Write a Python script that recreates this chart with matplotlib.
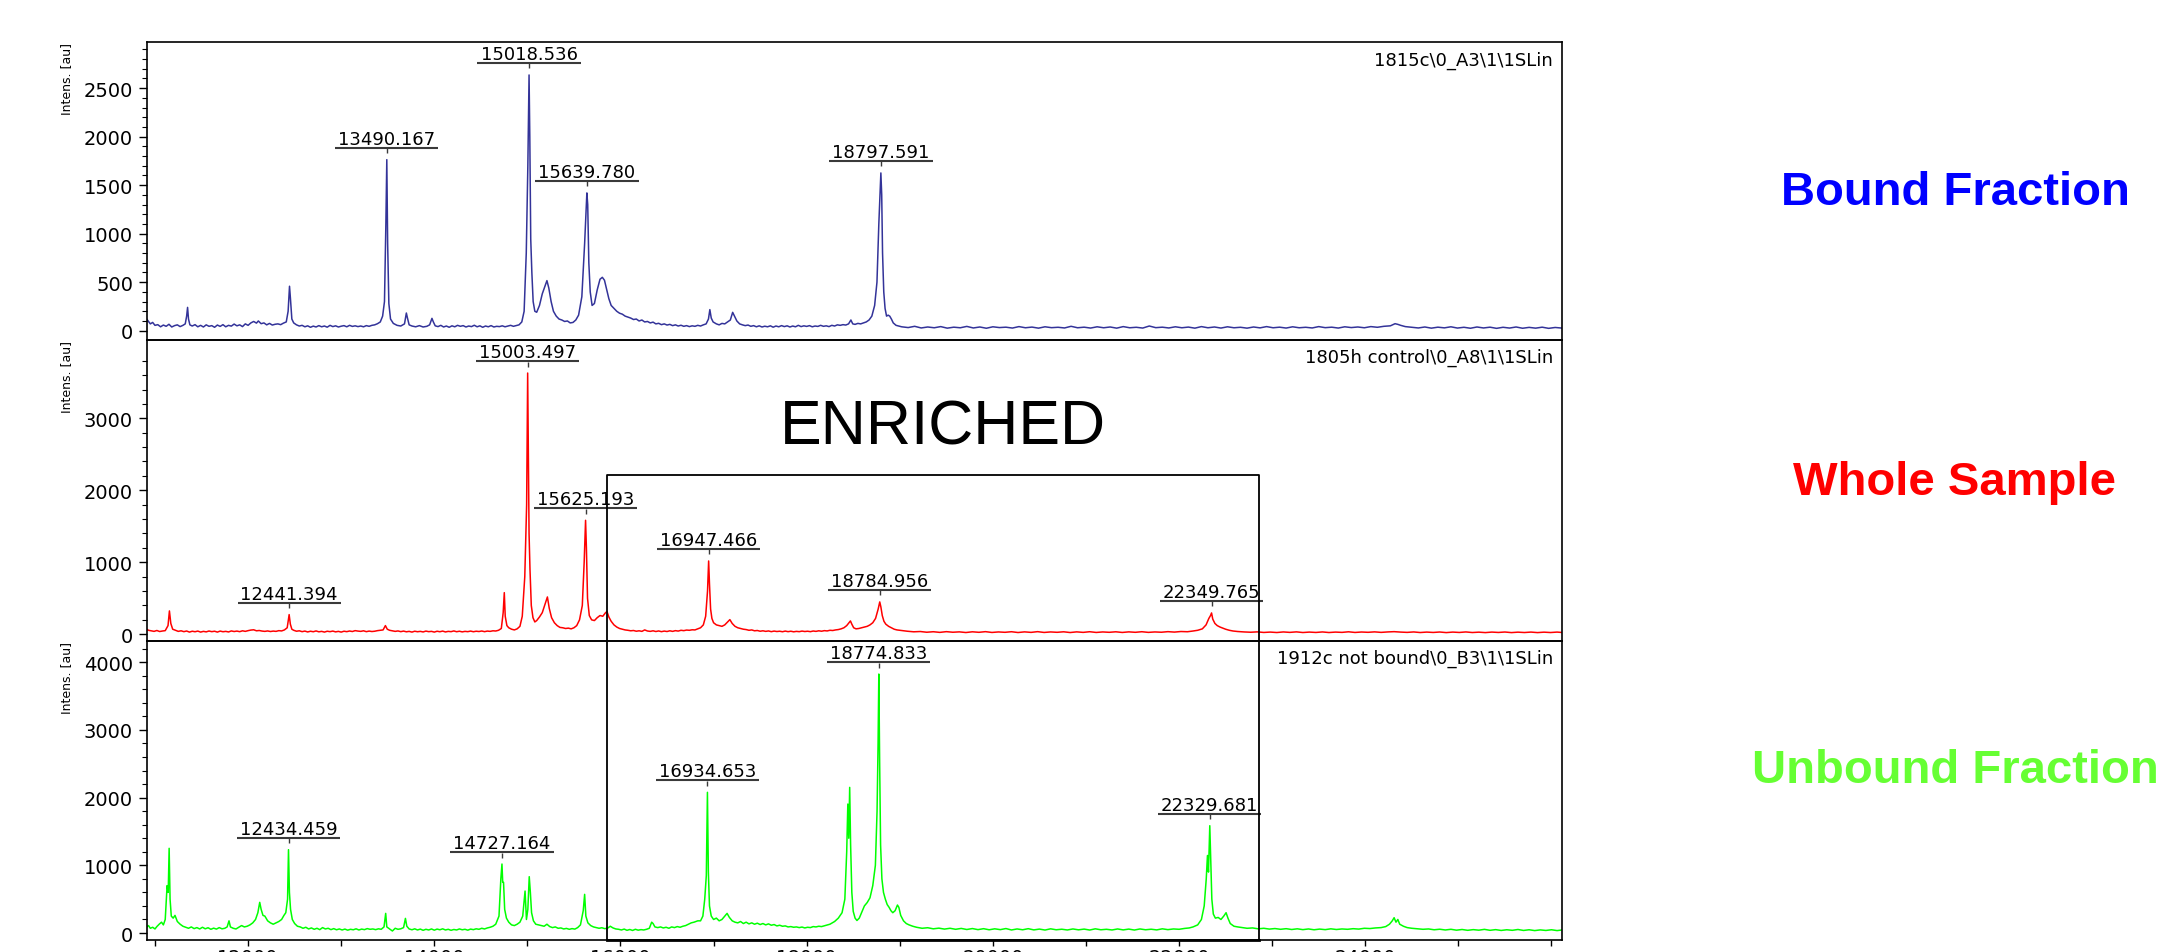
import matplotlib
matplotlib.use('Agg')
import matplotlib.pyplot as plt
from matplotlib.ticker import MultipleLocator, FixedLocator
from matplotlib.transforms import offset_copy

plt.rcParams['font.family'] = ['DejaVu Sans']

# spectra: (m/z, intensity [au])
bound_pts = [
    (10911, 120), (10930, 95), (10950, 70), (10975, 85), (11000, 55), (11030, 62), (11060, 40), (11090, 58),
    (11120, 45), (11150, 66), (11180, 38), (11210, 52), (11240, 60), (11270, 42), (11300, 55), (11325, 70),
    (11340, 150), (11350, 240), (11360, 120), (11375, 60), (11400, 48), (11430, 62), (11460, 40), (11490, 55),
    (11520, 38), (11550, 60), (11580, 45), (11610, 52), (11640, 35), (11670, 58), (11700, 44), (11730, 62),
    (11760, 40), (11790, 55), (11820, 47), (11850, 68), (11880, 50), (11910, 60), (11940, 42), (11970, 70),
    (12000, 55), (12030, 80), (12060, 95), (12090, 78), (12110, 100), (12140, 72), (12170, 80), (12200, 60),
    (12230, 75), (12260, 58), (12290, 66), (12320, 70), (12350, 62), (12380, 78), (12410, 90), (12430, 200),
    (12445, 458), (12455, 330), (12470, 120), (12490, 80), (12520, 60), (12550, 48), (12580, 55), (12610, 40),
    (12640, 50), (12670, 35), (12700, 47), (12730, 38), (12760, 52), (12790, 40), (12820, 48), (12850, 36),
    (12880, 55), (12910, 42), (12940, 50), (12970, 38), (13000, 46), (13030, 52), (13060, 40), (13090, 55),
    (13120, 44), (13150, 50), (13180, 42), (13210, 48), (13240, 40), (13270, 52), (13300, 45), (13330, 55),
    (13360, 60), (13390, 72), (13420, 90), (13445, 150), (13465, 300), (13480, 1100), (13490, 1763),
    (13499, 900), (13512, 280), (13530, 120), (13560, 75), (13600, 55), (13640, 48), (13680, 70), (13700, 182),
    (13712, 130), (13730, 60), (13760, 48), (13800, 40), (13840, 52), (13880, 38), (13920, 45), (13950, 60),
    (13975, 127), (13990, 90), (14010, 50), (14040, 42), (14070, 55), (14100, 38), (14130, 48), (14160, 35),
    (14190, 50), (14220, 40), (14250, 55), (14280, 45), (14310, 52), (14340, 38), (14370, 48), (14400, 42),
    (14430, 56), (14460, 40), (14490, 50), (14520, 35), (14550, 48), (14580, 40), (14610, 52), (14640, 38),
    (14670, 45), (14700, 42), (14730, 50), (14760, 40), (14790, 48), (14820, 55), (14850, 45), (14880, 52),
    (14910, 60), (14940, 90), (14965, 200), (14988, 800), (15005, 1700), (15018, 2636), (15026, 2000),
    (15036, 945), (15048, 600), (15062, 300), (15080, 200), (15100, 190), (15130, 260), (15160, 380),
    (15190, 460), (15210, 516), (15230, 440), (15255, 300), (15280, 200), (15310, 150), (15340, 120),
    (15370, 110), (15400, 95), (15430, 100), (15460, 80), (15490, 85), (15520, 110), (15550, 160),
    (15585, 350), (15615, 900), (15639, 1420), (15648, 1300), (15660, 700), (15675, 400), (15695, 260),
    (15720, 280), (15750, 420), (15780, 530), (15805, 550), (15828, 520), (15850, 430), (15875, 330),
    (15900, 260), (15930, 230), (15960, 200), (15990, 180), (16020, 170), (16050, 150), (16080, 140),
    (16110, 130), (16140, 115), (16170, 120), (16200, 100), (16230, 110), (16260, 90), (16290, 95),
    (16320, 80), (16350, 88), (16380, 70), (16410, 76), (16440, 62), (16470, 70), (16500, 58), (16530, 65),
    (16560, 52), (16590, 60), (16620, 48), (16650, 56), (16680, 45), (16710, 52), (16740, 42), (16770, 50),
    (16800, 45), (16830, 55), (16860, 48), (16890, 60), (16920, 70), (16945, 120), (16960, 217), (16975, 130),
    (16995, 90), (17030, 70), (17060, 60), (17090, 75), (17120, 70), (17150, 90), (17180, 110), (17205, 189),
    (17225, 150), (17250, 100), (17280, 70), (17310, 60), (17340, 52), (17370, 58), (17400, 45), (17430, 52),
    (17460, 40), (17490, 50), (17520, 38), (17550, 46), (17580, 40), (17610, 50), (17640, 36), (17670, 48),
    (17700, 40), (17730, 52), (17760, 42), (17790, 50), (17820, 38), (17850, 48), (17880, 40), (17910, 55),
    (17940, 42), (17970, 50), (18000, 44), (18030, 52), (18060, 40), (18090, 48), (18120, 44), (18150, 55),
    (18180, 45), (18210, 50), (18240, 42), (18270, 55), (18300, 48), (18330, 60), (18360, 55), (18390, 62),
    (18420, 58), (18450, 70), (18475, 110), (18495, 70), (18520, 65), (18550, 75), (18580, 70), (18610, 80),
    (18640, 90), (18670, 110), (18700, 150), (18730, 260), (18755, 500), (18775, 1100), (18797, 1626),
    (18806, 1400), (18815, 800), (18828, 400), (18842, 230), (18858, 150), (18875, 160), (18892, 150),
    (18910, 120), (18930, 80), (18960, 55), (18990, 48),
    (19020, 40), (19090, 32), (19160, 45), (19230, 28), (19300, 38), (19370, 30), (19440, 42), (19510, 26),
    (19580, 36), (19650, 30), (19720, 44), (19790, 28), (19860, 38), (19930, 25), (20000, 40), (20070, 32),
    (20140, 36), (20210, 27), (20280, 42), (20350, 30), (20420, 37), (20490, 26), (20560, 40), (20630, 31),
    (20700, 35), (20770, 28), (20840, 45), (20910, 30), (20980, 36), (21050, 27), (21120, 40), (21190, 30),
    (21260, 38), (21330, 26), (21400, 42), (21470, 30), (21540, 35), (21610, 27), (21680, 48), (21750, 31),
    (21820, 36), (21890, 28), (21960, 40), (22030, 30), (22100, 37), (22170, 26), (22240, 42), (22310, 30),
    (22380, 38), (22450, 27), (22520, 40), (22590, 30), (22660, 35), (22730, 26), (22800, 38), (22870, 29),
    (22940, 42), (23010, 30), (23080, 36), (23150, 27), (23220, 40), (23290, 30), (23360, 35), (23430, 28),
    (23500, 42), (23570, 31), (23640, 36), (23710, 27), (23780, 40), (23850, 32), (23920, 38), (23990, 30),
    (24060, 42), (24130, 35), (24200, 45), (24270, 50), (24320, 72), (24350, 65), (24380, 55), (24430, 42),
    (24500, 35), (24570, 28), (24640, 38), (24710, 26), (24780, 36), (24850, 29), (24920, 40), (24990, 27),
    (25060, 35), (25130, 25), (25200, 38), (25270, 28), (25340, 36), (25410, 24), (25480, 35), (25550, 27),
    (25620, 38), (25690, 25), (25760, 34), (25830, 26), (25900, 36), (25970, 24), (26040, 33), (26110, 27),
]

whole_pts = [
    (10911, 70), (10930, 55), (10960, 48), (10990, 40), (11020, 52), (11050, 38), (11080, 45), (11110, 50),
    (11140, 120), (11155, 324), (11170, 150), (11190, 70), (11220, 55), (11250, 40), (11280, 48), (11310, 36),
    (11340, 45), (11370, 30), (11400, 42), (11430, 35), (11460, 44), (11490, 30), (11520, 40), (11550, 33),
    (11580, 45), (11610, 36), (11640, 42), (11670, 30), (11700, 44), (11730, 35), (11760, 40), (11790, 32),
    (11820, 46), (11850, 38), (11880, 44), (11910, 36), (11940, 48), (11970, 40), (12000, 50), (12030, 58),
    (12060, 62), (12090, 48), (12120, 52), (12150, 44), (12180, 40), (12210, 46), (12240, 38), (12270, 44),
    (12300, 40), (12330, 50), (12360, 46), (12390, 60), (12420, 90), (12441, 273), (12454, 140), (12470, 70),
    (12490, 55), (12520, 42), (12550, 48), (12580, 36), (12610, 44), (12640, 32), (12670, 42), (12700, 35),
    (12730, 46), (12760, 34), (12790, 40), (12820, 30), (12850, 42), (12880, 36), (12910, 44), (12940, 33),
    (12970, 40), (13000, 30), (13030, 42), (13060, 36), (13090, 45), (13120, 38), (13150, 50), (13180, 44),
    (13210, 40), (13240, 48), (13270, 36), (13300, 44), (13330, 38), (13360, 42), (13390, 50), (13420, 55),
    (13450, 60), (13475, 120), (13495, 70), (13520, 55), (13550, 48), (13580, 40), (13610, 46), (13640, 36),
    (13670, 44), (13700, 34), (13730, 40), (13760, 30), (13790, 42), (13820, 35), (13850, 40), (13880, 32),
    (13910, 44), (13940, 36), (13970, 40), (14000, 30), (14030, 42), (14060, 35), (14090, 44), (14120, 32),
    (14150, 40), (14180, 36), (14210, 46), (14240, 35), (14270, 42), (14300, 33), (14330, 40), (14360, 36),
    (14390, 44), (14420, 35), (14450, 42), (14480, 38), (14510, 45), (14540, 36), (14570, 44), (14600, 40),
    (14630, 48), (14660, 45), (14690, 55), (14720, 80), (14740, 300), (14752, 578), (14762, 250), (14780, 120),
    (14800, 90), (14830, 70), (14860, 60), (14890, 75), (14920, 110), (14945, 250), (14972, 800),
    (14992, 1800), (15003, 3629), (15010, 2600), (15018, 1398), (15028, 900), (15042, 400), (15060, 230),
    (15080, 171), (15100, 190), (15130, 240), (15160, 300), (15190, 420), (15215, 518), (15235, 360),
    (15260, 230), (15290, 160), (15320, 120), (15350, 95), (15380, 90), (15410, 80), (15440, 85), (15470, 75),
    (15500, 90), (15530, 120), (15560, 200), (15590, 400), (15610, 1000), (15625, 1583), (15634, 1200),
    (15646, 500), (15665, 260), (15690, 200), (15720, 190), (15750, 230), (15780, 260), (15810, 250),
    (15840, 300), (15855, 315), (15875, 240), (15900, 180), (15930, 130), (15960, 100), (15990, 80),
    (16020, 70), (16050, 60), (16080, 55), (16110, 48), (16140, 52), (16170, 42), (16200, 48), (16230, 40),
    (16260, 60), (16290, 45), (16320, 40), (16350, 48), (16380, 38), (16410, 46), (16440, 36), (16470, 44),
    (16500, 38), (16530, 48), (16560, 40), (16590, 50), (16620, 44), (16650, 55), (16680, 50), (16710, 58),
    (16740, 55), (16770, 62), (16800, 60), (16830, 75), (16860, 90), (16890, 130), (16915, 250), (16935, 600),
    (16947, 1018), (16956, 700), (16968, 350), (16982, 220), (17000, 160), (17030, 130), (17060, 120),
    (17090, 110), (17120, 130), (17150, 170), (17175, 203), (17200, 150), (17230, 110), (17260, 90),
    (17290, 80), (17320, 70), (17350, 65), (17380, 55), (17410, 60), (17440, 48), (17470, 52), (17500, 42),
    (17530, 48), (17560, 40), (17590, 46), (17620, 36), (17650, 44), (17680, 38), (17710, 42), (17740, 35),
    (17770, 44), (17800, 36), (17830, 42), (17860, 34), (17890, 40), (17920, 36), (17950, 44), (17980, 38),
    (18010, 42), (18040, 36), (18070, 45), (18100, 40), (18130, 48), (18160, 42), (18190, 50), (18220, 46),
    (18250, 55), (18280, 52), (18310, 60), (18340, 65), (18370, 75), (18400, 90), (18430, 120), (18455, 160),
    (18470, 185), (18485, 140), (18505, 90), (18530, 75), (18560, 80), (18590, 90), (18620, 100), (18650, 110),
    (18680, 130), (18710, 160), (18740, 220), (18768, 350), (18785, 449), (18797, 380), (18812, 260),
    (18830, 180), (18850, 140), (18880, 110), (18910, 90), (18940, 70), (18970, 60), (19000, 55), (19040, 48),
    (19080, 42), (19150, 34), (19220, 38), (19290, 28), (19360, 35), (19430, 26), (19500, 36), (19570, 28),
    (19640, 33), (19710, 24), (19780, 34), (19850, 27), (19920, 36), (19990, 25), (20060, 32), (20130, 27),
    (20200, 35), (20270, 24), (20340, 33), (20410, 26), (20480, 36), (20550, 25), (20620, 32), (20690, 27),
    (20760, 34), (20830, 24), (20900, 33), (20970, 26), (21040, 35), (21110, 25), (21180, 32), (21250, 27),
    (21320, 34), (21390, 25), (21460, 33), (21530, 27), (21600, 35), (21670, 26), (21740, 32), (21810, 28),
    (21880, 36), (21950, 30), (22020, 38), (22090, 35), (22150, 45), (22200, 55), (22250, 75), (22290, 130),
    (22320, 220), (22338, 260), (22349, 296), (22362, 210), (22385, 150), (22410, 120), (22440, 100),
    (22470, 85), (22500, 70), (22540, 55), (22580, 45), (22630, 38), (22700, 32), (22770, 28), (22840, 33),
    (22910, 25), (22980, 30), (23050, 24), (23120, 32), (23190, 26), (23260, 33), (23330, 24), (23400, 30),
    (23470, 25), (23540, 32), (23610, 24), (23680, 30), (23750, 26), (23820, 34), (23890, 25), (23960, 31),
    (24030, 27), (24100, 33), (24170, 26), (24240, 32), (24310, 36), (24380, 30), (24450, 26), (24520, 32),
    (24590, 24), (24660, 30), (24730, 25), (24800, 31), (24870, 23), (24940, 30), (25010, 25), (25080, 32),
    (25150, 24), (25220, 29), (25290, 23), (25360, 30), (25430, 25), (25500, 31), (25570, 23), (25640, 29),
    (25710, 24), (25780, 30), (25850, 23), (25920, 29), (25990, 24), (26060, 30), (26110, 25),
]

unbound_pts = [
    (10911, 90), (10930, 110), (10950, 70), (10975, 85), (11000, 60), (11020, 95), (11045, 130), (11070, 160),
    (11090, 120), (11110, 200), (11130, 700), (11142, 600), (11152, 1251), (11162, 500), (11175, 250),
    (11195, 220), (11215, 260), (11240, 170), (11270, 130), (11300, 100), (11330, 85), (11360, 70), (11390, 90),
    (11420, 65), (11450, 80), (11480, 60), (11510, 85), (11540, 62), (11570, 78), (11600, 55), (11630, 72),
    (11660, 58), (11690, 80), (11720, 62), (11750, 70), (11775, 90), (11795, 180), (11810, 90), (11840, 70),
    (11870, 60), (11900, 85), (11930, 110), (11960, 90), (11990, 100), (12020, 120), (12050, 150), (12080, 200),
    (12105, 300), (12125, 453), (12140, 350), (12160, 260), (12180, 250), (12210, 180), (12240, 150),
    (12270, 130), (12300, 150), (12330, 170), (12360, 200), (12385, 260), (12405, 300), (12424, 500),
    (12434, 1231), (12444, 600), (12456, 350), (12475, 200), (12500, 140), (12530, 100), (12560, 90),
    (12590, 70), (12620, 85), (12650, 60), (12680, 75), (12710, 55), (12740, 70), (12770, 50), (12800, 80),
    (12830, 60), (12860, 70), (12890, 50), (12920, 65), (12950, 48), (12980, 60), (13010, 45), (13040, 58),
    (13070, 42), (13100, 55), (13130, 48), (13160, 62), (13190, 45), (13220, 58), (13250, 50), (13280, 65),
    (13310, 55), (13340, 60), (13370, 50), (13400, 62), (13430, 55), (13460, 90), (13478, 290), (13490, 90),
    (13520, 60), (13550, 30), (13580, 70), (13610, 55), (13640, 62), (13670, 80), (13690, 216), (13705, 100),
    (13730, 60), (13760, 48), (13790, 62), (13820, 45), (13850, 58), (13880, 40), (13910, 55), (13940, 45),
    (13970, 60), (14000, 42), (14030, 58), (14060, 48), (14090, 62), (14120, 45), (14150, 55), (14180, 40),
    (14210, 52), (14240, 45), (14270, 60), (14300, 48), (14330, 55), (14360, 42), (14390, 58), (14420, 50),
    (14450, 62), (14480, 55), (14510, 70), (14540, 60), (14570, 75), (14600, 85), (14630, 100), (14660, 130),
    (14695, 250), (14715, 800), (14727, 1019), (14735, 750), (14744, 747), (14756, 350), (14775, 220),
    (14800, 160), (14830, 120), (14860, 110), (14890, 130), (14920, 160), (14950, 250), (14975, 620),
    (14990, 200), (15005, 350), (15020, 832), (15032, 600), (15045, 300), (15065, 180), (15090, 130),
    (15120, 120), (15150, 110), (15180, 100), (15210, 130), (15240, 95), (15270, 80), (15300, 90), (15330, 70),
    (15360, 75), (15390, 60), (15420, 68), (15450, 55), (15480, 65), (15510, 58), (15540, 80), (15570, 120),
    (15600, 330), (15615, 571), (15628, 250), (15650, 150), (15680, 110), (15710, 90), (15740, 80), (15770, 70),
    (15800, 78), (15830, 65), (15860, 70), (15890, 100), (15920, 75), (15950, 60), (15980, 55), (16010, 45),
    (16040, 58), (16070, 40), (16100, 52), (16130, 38), (16160, 55), (16190, 42), (16220, 50), (16250, 45),
    (16280, 55), (16310, 70), (16335, 160), (16350, 140), (16370, 90), (16400, 80), (16430, 90), (16460, 75),
    (16490, 85), (16520, 70), (16550, 90), (16580, 80), (16610, 95), (16640, 85), (16670, 100), (16700, 110),
    (16730, 130), (16760, 150), (16790, 160), (16830, 180), (16860, 180), (16885, 250), (16905, 500),
    (16922, 850), (16934, 2078), (16944, 900), (16956, 400), (16975, 250), (17000, 200), (17030, 220),
    (17060, 180), (17090, 200), (17120, 250), (17145, 290), (17170, 230), (17200, 180), (17230, 160),
    (17260, 150), (17290, 170), (17320, 140), (17350, 160), (17380, 135), (17410, 150), (17440, 130),
    (17470, 145), (17500, 125), (17530, 140), (17560, 120), (17590, 135), (17620, 115), (17650, 125),
    (17680, 105), (17710, 115), (17740, 100), (17770, 105), (17800, 90), (17830, 95), (17860, 85), (17890, 90),
    (17920, 80), (17950, 88), (17980, 75), (18010, 85), (18040, 80), (18070, 95), (18100, 90), (18130, 100),
    (18160, 95), (18200, 110), (18250, 130), (18300, 170), (18340, 220), (18380, 300), (18410, 500),
    (18430, 1200), (18442, 1905), (18452, 1400), (18462, 2151), (18472, 1300), (18485, 600), (18500, 320),
    (18520, 220), (18540, 185), (18565, 220), (18590, 300), (18620, 400), (18650, 450), (18680, 520),
    (18710, 700), (18738, 1000), (18756, 1800), (18767, 2800), (18775, 3825), (18784, 2500), (18794, 1300),
    (18808, 800), (18825, 600), (18845, 500), (18865, 420), (18885, 380), (18905, 330), (18925, 300),
    (18950, 330), (18975, 413), (18990, 380), (19010, 260), (19040, 180), (19070, 140), (19100, 120),
    (19140, 100), (19180, 85), (19240, 70), (19300, 78), (19360, 62), (19420, 72), (19480, 58), (19540, 70),
    (19600, 55), (19660, 68), (19720, 52), (19780, 66), (19840, 50), (19900, 64), (19960, 48), (20020, 62),
    (20080, 50), (20140, 66), (20200, 45), (20260, 60), (20320, 48), (20380, 64), (20440, 46), (20500, 58),
    (20560, 44), (20620, 62), (20680, 48), (20740, 56), (20800, 45), (20860, 60), (20920, 47), (20980, 58),
    (21040, 44), (21100, 62), (21160, 48), (21220, 55), (21280, 45), (21340, 60), (21400, 46), (21460, 58),
    (21520, 44), (21580, 60), (21640, 48), (21700, 56), (21760, 46), (21820, 62), (21880, 50), (21940, 60),
    (22000, 55), (22060, 68), (22110, 75), (22150, 90), (22200, 120), (22240, 200), (22270, 400),
    (22292, 800), (22305, 1145), (22316, 900), (22330, 1585), (22340, 1100), (22352, 500), (22368, 280),
    (22390, 220), (22420, 230), (22450, 200), (22480, 250), (22505, 300), (22525, 220), (22550, 140),
    (22590, 100), (22630, 90), (22680, 80), (22730, 70), (22790, 75), (22850, 62), (22910, 70), (22970, 58),
    (23030, 66), (23090, 55), (23150, 64), (23210, 52), (23270, 62), (23330, 50), (23390, 60), (23450, 48),
    (23510, 58), (23570, 50), (23630, 62), (23690, 52), (23750, 60), (23810, 55), (23870, 64), (23930, 58),
    (23990, 70), (24050, 66), (24110, 75), (24170, 80), (24220, 95), (24260, 130), (24290, 180), (24310, 226),
    (24330, 160), (24350, 200), (24370, 130), (24410, 100), (24450, 80), (24500, 70), (24560, 62), (24620, 55),
    (24680, 60), (24740, 48), (24800, 56), (24860, 45), (24920, 55), (24980, 42), (25040, 52), (25100, 40),
    (25160, 50), (25220, 42), (25280, 54), (25340, 40), (25400, 50), (25460, 38), (25520, 48), (25580, 40),
    (25640, 52), (25700, 38), (25760, 48), (25820, 36), (25880, 46), (25940, 38), (26000, 48), (26060, 36),
    (26110, 44),
]

# labelled peaks
bound_peak_mz = [13490.167, 15018.536, 15639.780, 18797.591]
bound_peak_int = [1763, 2636, 1420, 1626]
whole_peak_mz = [12441.394, 15003.497, 15625.193, 16947.466, 18784.956, 22349.765]
whole_peak_int = [273, 3629, 1583, 1018, 449, 296]
unbound_peak_mz = [12434.459, 14727.164, 16934.653, 18774.833, 22329.681]
unbound_peak_int = [1231, 1019, 2078, 3825, 1585]

sample_names = [r'1815c\0_A3\1\1SLin', r'1805h control\0_A8\1\1SLin', r'1912c not bound\0_B3\1\1SLin']
panel_titles = ['Bound Fraction', 'Whole Sample', 'Unbound Fraction']
title_colors = ['#0000FF', '#FF0000', '#66FF33']
line_colors = ['#333399', '#FF0000', '#00FF00']

# m/z axis ticks (labelled ones and the unlabelled in-between ones)
mz_labelled = [12000, 14000, 16000, 18000, 20000, 22000, 24000]
mz_unlabelled = [11000, 13000, 15000, 17000, 19000, 21000, 23000, 25000, 26000]

# enriched region (m/z range, top of the box in the whole-sample panel)
box_mz = [15855, 22858]
box_top = 2208

XMIN, XMAX = 10911, 26113

fig = plt.figure(figsize=(21.67, 9.53), dpi=100)
ax_top = fig.add_axes([0.0677, 0.6425, 0.6531, 0.3121])
ax_mid = fig.add_axes([0.0677, 0.3267, 0.6531, 0.3158])
ax_bot = fig.add_axes([0.0677, 0.0126, 0.6531, 0.3141])
axes = [ax_top, ax_mid, ax_bot]

spectra = [bound_pts, whole_pts, unbound_pts]
peaks = [(bound_peak_mz, bound_peak_int), (whole_peak_mz, whole_peak_int), (unbound_peak_mz, unbound_peak_int)]
ylims = [(-93, 2973), (-89, 4092), (-103, 4318)]
majors = [[0, 500, 1000, 1500, 2000, 2500], [0, 1000, 2000, 3000], [0, 1000, 2000, 3000, 4000]]
minors = [list(range(0, 3000, 100)), list(range(0, 4000, 200)), list(range(0, 4300, 200))]

for i, ax in enumerate(axes):
    ax.set_facecolor('none')
    mz = [p[0] for p in spectra[i]]
    inten = [p[1] for p in spectra[i]]
    ax.plot(mz, inten, color=line_colors[i], lw=1.1)
    ax.set_xlim(XMIN, XMAX)
    ax.set_ylim(*ylims[i])
    ax.yaxis.set_major_locator(FixedLocator(majors[i]))
    ax.yaxis.set_minor_locator(FixedLocator(minors[i]))
    ax.tick_params(axis='y', which='major', length=5.8, width=1.0, direction='out', labelsize=14, pad=4)
    ax.tick_params(axis='y', which='minor', length=3.6, width=0.8, direction='out')
    for s in ax.spines.values():
        s.set_linewidth(1.2)
    ax.text(-0.057, 1.0, 'Intens. [au]', transform=ax.transAxes, rotation=90,
            ha='center', va='top', fontsize=9)
    ax.text(0.9937, 1.0, sample_names[i], transform=offset_copy(ax.transAxes, fig=fig, y=-8, units='dots'),
            ha='right', va='top', fontsize=13)

    # peak annotations: label, bar and tick above each peak
    bar_tr = offset_copy(ax.transData, fig=fig, y=12, units='dots')
    tick_tr = offset_copy(ax.transData, fig=fig, y=9.5, units='dots')
    txt_tr = offset_copy(ax.transData, fig=fig, y=16, units='dots')
    for pmz, pint in zip(*peaks[i]):
        ax.plot([pmz - 555, pmz + 555], [pint, pint], transform=bar_tr, color='#3a3a3a', lw=1.5,
                solid_capstyle='butt')
        ax.plot([pmz], [pint], transform=tick_tr, marker='|', ms=3.6, mew=1.0, color='#3a3a3a')
        ax.text(pmz, pint, f'{pmz:.3f}', transform=txt_tr, ha='center', va='baseline', fontsize=13)

for ax in (ax_top, ax_mid):
    ax.set_xticks([])

ax_bot.xaxis.set_major_locator(FixedLocator(mz_labelled))
ax_bot.xaxis.set_minor_locator(FixedLocator(mz_unlabelled))
ax_bot.tick_params(axis='x', which='both', length=4.3, width=1.0, direction='out', labelsize=14, pad=1.5)

# ENRICHED box across the lower two panels
ax_mid.plot([box_mz[0], box_mz[0], box_mz[1], box_mz[1]], [ylims[1][0], box_top, box_top, ylims[1][0]],
            color='black', lw=1.3, clip_on=False)
for bx in box_mz:
    ax_bot.axvline(bx, color='black', lw=1.3)
ax_bot.plot(box_mz, [ylims[2][0], ylims[2][0]], color='black', lw=2.0, clip_on=False)

fig.text(0.4352, 0.5341, 'ENRICHED', fontsize=45, family='Liberation Sans', ha='center', va='baseline')

title_pos = [(0.8219, 0.7849), (0.8273, 0.4806), (0.8085, 0.1781)]
for (tx, ty), t, c in zip(title_pos, panel_titles, title_colors):
    fig.text(tx, ty, t, fontsize=34, weight='bold', family='Liberation Sans', color=c,
             ha='left', va='baseline')

fig.savefig('out.png', dpi=100)
